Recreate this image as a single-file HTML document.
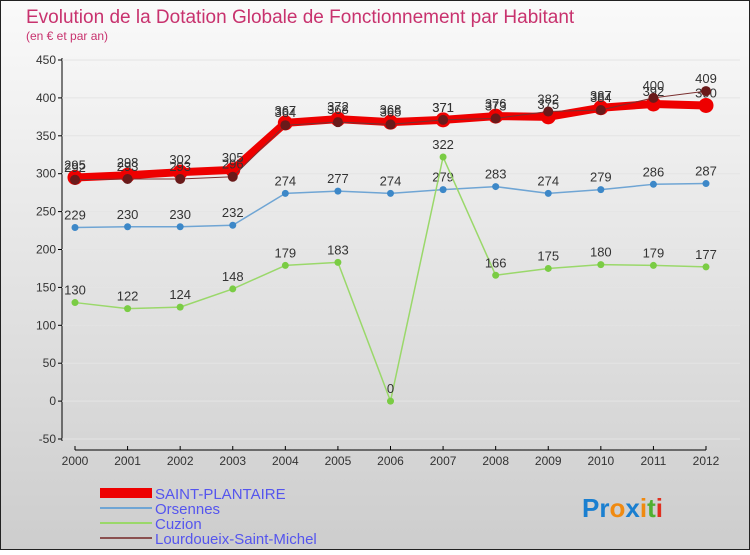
<!DOCTYPE html>
<html><head><meta charset="utf-8"><style>
body{margin:0}
svg text{font-family:"Liberation Sans",sans-serif}
</style></head><body>
<svg id="c" width="750" height="550" xmlns="http://www.w3.org/2000/svg">
<defs><linearGradient id="bg" x1="0" y1="0" x2="0" y2="1"><stop offset="0" stop-color="#fafafa"/><stop offset="1" stop-color="#cdcdcd"/></linearGradient></defs>
<rect x="0.5" y="0.5" width="749" height="549" fill="url(#bg)" stroke="#222"/>
<text x="26" y="23" font-size="19" fill="#c8326e">Evolution de la Dotation Globale de Fonctionnement par Habitant</text>
<text x="26" y="40" font-size="12" fill="#c8326e">(en € et par an)</text>
<g id="axes"></g><g id="series"></g>
<g>
<rect x="100" y="488" width="52" height="10" fill="#e00"/>
<text x="155" y="499" font-size="15" fill="#5555ee">SAINT-PLANTAIRE</text>
<line x1="100" y1="508" x2="152" y2="508" stroke="#6fa5d4" stroke-width="2"/>
<text x="155" y="514" font-size="15" fill="#5555ee">Orsennes</text>
<line x1="100" y1="523" x2="152" y2="523" stroke="#9ad86a" stroke-width="2"/>
<text x="155" y="529" font-size="15" fill="#5555ee">Cuzion</text>
<line x1="100" y1="538" x2="152" y2="538" stroke="#8a5050" stroke-width="2"/>
<text x="155" y="544" font-size="15" fill="#5555ee">Lourdoueix-Saint-Michel</text>
</g>
<text x="582" y="517" font-size="26" font-weight="bold"><tspan fill="#1a7fd0">Pr</tspan><tspan fill="#f08a10">o</tspan><tspan fill="#1a7fd0">x</tspan><tspan fill="#f08a10">i</tspan><tspan fill="#50b030">t</tspan><tspan fill="#e03020">i</tspan></text>
</svg>
<script>
const years=[2000,2001,2002,2003,2004,2005,2006,2007,2008,2009,2010,2011,2012];
const yTicks=[-50,0,50,100,150,200,250,300,350,400,450];
const saintPlantaire=[295,298,302,305,367,372,368,371,376,375,387,392,390];
const orsennes=[229,230,230,232,274,277,274,279,283,274,279,286,287];
const cuzion=[130,122,124,148,179,183,0,322,166,175,180,179,177];
const lourdoueix=[292,293,293,296,364,368,365,371,373,382,384,400,409];
const NS='http://www.w3.org/2000/svg';
const X=i=>75+i*(706-75)/(years.length-1);
const Y=v=>439-(v+50)*(379/500);
const ax=document.getElementById('axes'),se=document.getElementById('series');
function mk(p,t,a){const e=document.createElementNS(NS,t);for(const k in a)e.setAttribute(k,a[k]);p.appendChild(e);return e;}
let yl=mk(ax,'line',{x1:62,y1:58,x2:62,y2:441,stroke:'#000'});


yTicks.forEach(v=>{
 const g=mk(ax,'line',{x1:62,x2:740,y1:Y(v),y2:Y(v),stroke:'#e4e4e4'});
 
 
 mk(ax,'line',{x1:58,x2:62,y1:Y(v),y2:Y(v),stroke:'#000'});
 const t=mk(ax,'text',{x:56,y:Y(v)+4,'font-size':12,'text-anchor':'end',fill:'#333'});t.textContent=v;
 
 
});
let xl=mk(ax,'line',{x1:75,y1:450,x2:706,y2:450,stroke:'#000'});


years.forEach((y,i)=>{
 mk(ax,'line',{x1:X(i),x2:X(i),y1:446,y2:450,stroke:'#000'});
 const t=mk(ax,'text',{x:X(i),y:465,'font-size':12,'text-anchor':'middle',fill:'#333'});t.textContent=y;
 
 
});
function draw(name,data,color,w,r,mcol){
 const g=mk(se,'g',{});
 
 
 const p=mk(g,'polyline',{points:data.map((v,i)=>X(i)+','+Y(v)).join(' '),fill:'none',stroke:color,'stroke-width':w,'stroke-linejoin':'round'});
 
 
 data.forEach((v,i)=>{
  const c=mk(g,'circle',{cx:X(i),cy:Y(v),r:r,fill:mcol});
  
  
  const t=mk(g,'text',{x:X(i),y:Y(v)-8,'font-size':13,'text-anchor':'middle',fill:'#333'});t.textContent=v;
  
  
 });
}
draw('orsennes',orsennes,'#6fa5d4',1.5,3.5,'#3d88c8');
draw('cuzion',cuzion,'#9ad86a',1.5,3.5,'#7acc44');
draw('saint-plantaire',saintPlantaire,'#e00',8,7.5,'#e00');
draw('lourdoueix',lourdoueix,'#7a3030',1,5,'#6a1a1a');
</script>
</body></html>
